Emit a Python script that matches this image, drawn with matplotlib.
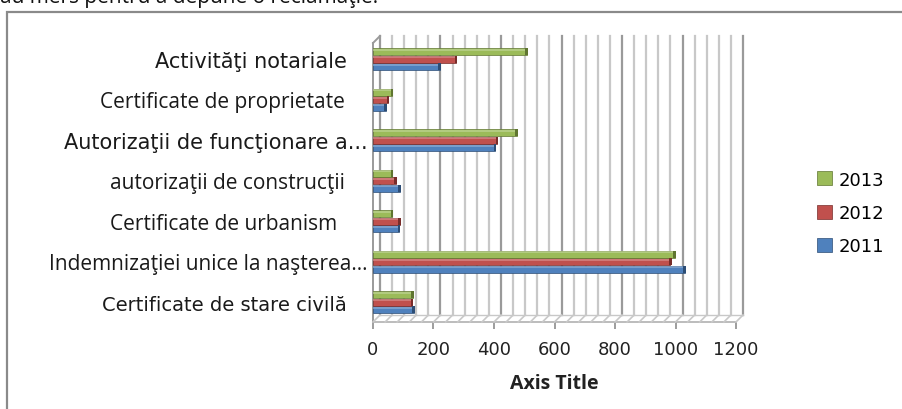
import numpy as np
import matplotlib
matplotlib.use("Agg")
import matplotlib.pyplot as plt
import matplotlib.transforms as mtransforms
from matplotlib.patches import Rectangle
from matplotlib.lines import Line2D

# data (bottom -> top)
categories = [
    "Certificate de stare civilă",
    "Indemnizaţiei unice la naşterea...",
    "Certificate de urbanism ",
    "autorizaţii de construcţii",
    "Autorizaţii de funcţionare a...",
    "Certificate de proprietate",
    "Activităţi notariale",
]
years = ["2011", "2012", "2013"]
v2011 = [134, 1030, 85, 88, 403, 42, 220]
v2012 = [128, 983, 88, 75, 410, 49, 275]
v2013 = [131, 997, 62, 62, 475, 62, 508]
x_ticks = [0, 200, 400, 600, 800, 1000, 1200]

colors = {"2011": "#4F81BD", "2012": "#C0504D", "2013": "#9BBB59"}
dark = {"2011": "#2C4D75", "2012": "#772C2A", "2013": "#5F7530"}
light = {"2011": "#95B3D7", "2012": "#D99694", "2013": "#C3D69B"}

# label styling: (font family, size, right-edge gap in px)
label_style = [
    ("DejaVu Sans", 14, 26),
    ("Open Sans", 15, 5),
    ("Open Sans", 15, 30),
    ("Open Sans", 15, 28),
    ("DejaVu Sans", 15, 5),
    ("Open Sans", 15, 28),
    ("DejaVu Sans", 15, 26),
]

W, H = 903, 410
fig = plt.figure(figsize=(W / 100, H / 100), dpi=100)
fig.patch.set_facecolor("white")

# front plane of the 3D plot area, in pixels
x0, x1, ytop, ybot = 373, 736, 44, 323
ax = fig.add_axes([x0 / W, 1 - ybot / H, (x1 - x0) / W, (ybot - ytop) / H])
ax.set_xlim(0, 1200)
ax.set_ylim(-0.49, 6.40)
for s in ax.spines.values():
    s.set_visible(False)
ax.set_yticks([])
ax.set_xticks(x_ticks)
ax.tick_params(axis="x", length=5, color="#8c8c8c", width=1.2, pad=8,
               labelsize=13, labelcolor="#222222")
ax.set_xlabel("Axis Title", fontsize=14, fontweight="bold", family="Open Sans",
              labelpad=11, color="#222222")
ax.set_facecolor("none")

depth = mtransforms.ScaledTranslation(0.07, 0.07, fig.dpi_scale_trans)
back_x = mtransforms.blended_transform_factory(ax.transData, ax.transAxes) + depth
front_x = mtransforms.blended_transform_factory(ax.transData, ax.transAxes)

# back wall gridlines (minor every 40, major every 200)
for g in np.arange(0, 1201, 40):
    major = g % 200 == 0
    c = "#9a9a9a" if major else "#c8c8c8"
    ax.plot([g, g], [0, 1], transform=back_x,
            color=c, lw=1.6, clip_on=False, zorder=1)
    # floor lines
    p0 = front_x.transform((g, 0))
    p1 = back_x.transform((g, 0))
    fig.add_artist(Line2D([p0[0], p1[0]], [p0[1], p1[1]], transform=None,
                          color="#c8c8c8", lw=1.2, zorder=1))

# floor edges and left wall
ax.plot([0, 1200], [0, 0], transform=front_x, color="#b0b0b0", lw=1.2,
        clip_on=False, zorder=2)
ax.plot([0, 1200], [0, 0], transform=back_x, color="#c8c8c8", lw=1.0,
        clip_on=False, zorder=1)
ax.plot([0, 0], [0, 1], transform=front_x, color="#9a9a9a", lw=1.4,
        clip_on=False, zorder=2)
pa = front_x.transform((0, 1))
pb = back_x.transform((0, 1))
fig.add_artist(Line2D([pa[0], pb[0]], [pa[1], pb[1]], transform=None,
                      color="#9a9a9a", lw=1.4))

# bars
y = np.arange(len(categories))
bh = 0.18
for k, (yr, vals) in enumerate(zip(years, [v2011, v2012, v2013])):
    yy = y + (k - 1) * 0.185
    ax.barh(yy, vals, height=bh, color=colors[yr], edgecolor=dark[yr],
            linewidth=0.5, zorder=3, label=yr)
    ax.barh(yy + bh * 0.28, vals, height=bh * 0.3, color=light[yr],
            linewidth=0, zorder=3.1, alpha=0.6)
    for v, yc in zip(vals, yy):
        ax.barh(yc, 8, left=v - 4, height=bh, color=dark[yr], linewidth=0, zorder=3.2)

# category labels
for i, (lab, (fam, fs, gap)) in enumerate(zip(categories, label_style)):
    tr = ax.transData + mtransforms.ScaledTranslation(-gap / 100, -0.02, fig.dpi_scale_trans)
    ax.text(0, i, lab, transform=tr, ha="right", va="center", family=fam,
            fontsize=fs, color="#1a1a1a", clip_on=False)

# legend
h, l = ax.get_legend_handles_labels()
leg = fig.legend(h[::-1], l[::-1], loc="center left",
                 bbox_to_anchor=(801 / W, 1 - 214 / H), frameon=False,
                 fontsize=13, handlelength=0.8, handleheight=0.8,
                 handletextpad=0.4, labelspacing=0.85)

# outer chart frame and cut-off document text
fig.add_artist(Rectangle((7 / W, -0.2), 1.2, 1.2 - 13 / H,
                         transform=fig.transFigure, fill=False,
                         edgecolor="#8a8a8a", lw=1.6))
fig.text(0.0, 1.005, "au mers pentru a depune o reclamaţie.", family="Open Sans",
         fontsize=15, va="center", ha="left", color="#111111")

fig.savefig("out.png", dpi=100)
